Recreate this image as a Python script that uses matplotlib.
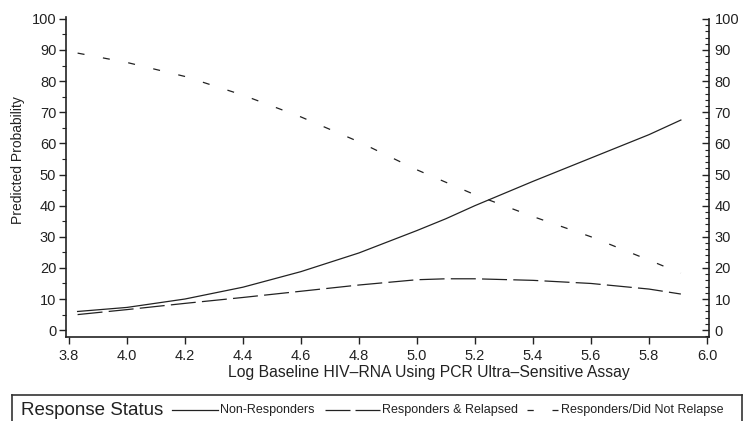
import matplotlib
matplotlib.use("Agg")
import matplotlib.pyplot as plt
from matplotlib.lines import Line2D
from matplotlib.ticker import MultipleLocator

plt.rcParams['font.family'] = ['Liberation Sans', 'DejaVu Sans']

# values
log_rna = [3.83, 4.0, 4.2, 4.4, 4.6, 4.8, 5.0, 5.1, 5.2, 5.4, 5.6, 5.8, 5.91]
non_resp = [6.0, 7.3, 10.0, 13.8, 18.8, 24.8, 32.0, 35.8, 40.0, 47.8, 55.3, 62.8, 67.5]
relapsed = [5.0, 6.6, 8.6, 10.5, 12.5, 14.5, 16.2, 16.5, 16.5, 16.0, 15.0, 13.2, 11.6]
no_relapse = [89.0, 86.0, 81.5, 75.5, 68.5, 60.5, 51.5, 47.5, 43.5, 36.5, 30.0, 22.5, 18.3]
xticks = [3.8, 4.0, 4.2, 4.4, 4.6, 4.8, 5.0, 5.2, 5.4, 5.6, 5.8, 6.0]
yticks = [0, 10, 20, 30, 40, 50, 60, 70, 80, 90, 100]

labels = ['Non-Responders', 'Responders & Relapsed', 'Responders/Did Not Relapse']
styles = ['-', (0, (20, 5)), (0, (5.6, 15))]
ink = '#222222'

fig = plt.figure(figsize=(7.47, 4.21), dpi=100)
ax = fig.add_axes([66/747, (421-337)/421, (709-66)/747, (337-17)/421])

for y, ls in zip([non_resp, relapsed, no_relapse], styles):
    ax.plot(log_rna, y, color=ink, lw=0.9, linestyle=ls)

ax.set_xlim(3.79, 6.007)
ax.set_ylim(-2.2, 100.6)
ax.set_xticks(xticks)
ax.set_xticklabels(['%.1f' % v for v in xticks])
ax.set_yticks(yticks)
ax.yaxis.set_minor_locator(MultipleLocator(5))
for s in ['top', 'right']:
    ax.spines[s].set_visible(False)
for s in ['left', 'bottom']:
    ax.spines[s].set_linewidth(1.2)
    ax.spines[s].set_color(ink)
ax.tick_params(axis='both', which='major', labelsize=10.5, length=5, width=1, color=ink, labelcolor=ink)
ax.tick_params(axis='y', which='minor', length=3, width=0.8, color=ink)
ax.tick_params(axis='x', pad=4)
ax.tick_params(axis='y', pad=2)

ax2 = ax.twinx()
ax2.set_ylim(ax.get_ylim())
ax2.set_yticks(yticks)
ax2.yaxis.set_minor_locator(MultipleLocator(2))
for s in ['top', 'left', 'bottom']:
    ax2.spines[s].set_visible(False)
ax2.spines['right'].set_linewidth(1.2)
ax2.spines['right'].set_color(ink)
ax2.spines['right'].set_bounds(-2.2, 100)
ax2.tick_params(axis='y', which='major', direction='in', length=5, width=1, labelsize=10.5, pad=4, color=ink, labelcolor=ink)
ax2.tick_params(axis='y', which='minor', direction='in', length=3, width=0.8, color=ink)

fig.text(18/747, 1 - 160/421, 'Predicted Probability', rotation=90, ha='center', va='center', fontsize=10, color=ink)
fig.text(429/747, 1 - 373/421, 'Log Baseline HIV\u2013RNA Using PCR Ultra\u2013Sensitive Assay', ha='center', va='center', fontsize=11.3, color=ink)

# legend box at the bottom
lg = fig.add_axes([12/747, -0.02, 730/747, (421-395)/421 + 0.02])
lg.set_xlim(12, 742)
lg.set_ylim(0, 1)
lg.set_xticks([])
lg.set_yticks([])
for s in lg.spines.values():
    s.set_linewidth(1.2)
    s.set_color('#333333')
yl = 0.55
lg.text(21, yl, 'Response Status', fontsize=13.5, va='center', ha='left', color=ink)
lg.add_line(Line2D([172, 218], [yl, yl], color=ink, lw=0.9))
lg.text(220, yl, labels[0], fontsize=9, va='center', ha='left', color=ink)
lg.add_line(Line2D([325, 380], [yl, yl], color=ink, lw=0.9, linestyle=(0, (20, 4))))
lg.text(382, yl, labels[1], fontsize=9, va='center', ha='left', color=ink)
lg.add_line(Line2D([527, 558], [yl, yl], color=ink, lw=0.9, linestyle=(0, (5, 15))))
lg.text(561, yl, labels[2], fontsize=9, va='center', ha='left', color=ink)

fig.savefig('out.png', dpi=100)
